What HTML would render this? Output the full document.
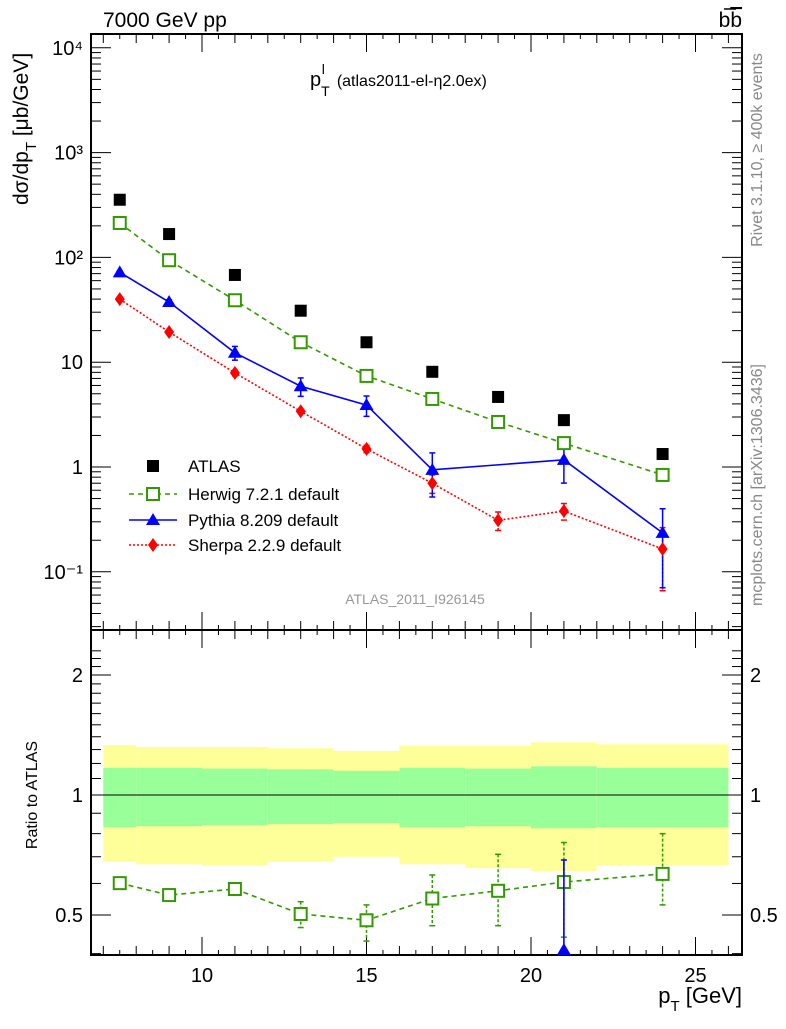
<!DOCTYPE html>
<html><head><meta charset="utf-8"><style>
body{margin:0;background:#fff}
svg text{font-family:"Liberation Sans",Arial,sans-serif}
</style></head><body>
<svg id="c" width="786" height="1024" xmlns="http://www.w3.org/2000/svg"></svg>
<script>
const xs=[7.5,9,11,13,15,17,19,21,24];
const binLo=[7,8,10,12,14,16,18,20,22];
const binHi=[8,10,12,14,16,18,20,22,26];
const atlas=[355,167,68,31,15.5,8.1,4.66,2.8,1.33];
const herwig=[213,94,39,15.5,7.4,4.46,2.69,1.69,0.84];
const herwigErr=[0.02,0.02,0.03,0.03,0.03,0.04,0.08,0.1,0.12];
const pythia=[72,37.5,12.3,5.9,3.9,0.94,1.17,0.235];
const pythiaX=[7.5,9,11,13,15,17,21,24];
const pythiaErr=[0.03,0.05,0.15,0.2,0.22,0.45,0.4,0.7];
const sherpa=[40,19.4,7.9,3.4,1.49,0.70,0.31,0.38,0.165];
const sherpaErr=[0.04,0.05,0.06,0.05,0.08,0.2,0.2,0.18,0.6];
const ratioH=[0.601,0.561,0.581,0.503,0.485,0.55,0.575,0.605,0.634];
const ratioHLo=[0.59,0.55,0.57,0.465,0.43,0.47,0.47,0.44,0.53];
const ratioHHi=[0.61,0.57,0.59,0.54,0.53,0.63,0.71,0.76,0.80];
const yelUp=[1.335,1.32,1.32,1.31,1.29,1.33,1.33,1.355,1.34];
const yelDn=[0.68,0.67,0.665,0.68,0.70,0.67,0.655,0.645,0.665];
const grnUp=[1.17,1.17,1.165,1.16,1.15,1.17,1.165,1.18,1.17];
const grnDn=[0.83,0.835,0.84,0.845,0.85,0.83,0.835,0.825,0.83];
const yTicks=[-1,0,1,2,3,4];
const yTickLabels=["10\u207B\u00B9","1","10","10\u00B2","10\u00B3","10\u2074"];
const xTicks=[10,15,20,25];
const rTicks=[0.5,1,2];

const L=91,R=742,T=34,MB=630,RB=955;
const X=v=>202+(v-10)*32.9;
const Y=v=>467-104.8*Math.log10(v);
const RY=r=>795-120*Math.log2(r);
const svg=document.getElementById('c');
const NS="http://www.w3.org/2000/svg";
function mk(tag,at,txt){const e=document.createElementNS(NS,tag);for(const k in at)e.setAttribute(k,at[k]);if(txt!==undefined)e.textContent=txt;svg.appendChild(e);return e;}
function line(x1,y1,x2,y2,st,w,da){return mk('line',{x1,y1,x2,y2,stroke:st,'stroke-width':w||1,'stroke-dasharray':da||'none'});}

for(let i=0;i<binLo.length;i++){
 let e=mk('rect',{x:X(binLo[i]),y:RY(yelUp[i]),width:X(binHi[i])-X(binLo[i]),height:RY(yelDn[i])-RY(yelUp[i]),fill:'#ffff99'});
 
 e=mk('rect',{x:X(binLo[i]),y:RY(grnUp[i]),width:X(binHi[i])-X(binLo[i]),height:RY(grnDn[i])-RY(grnUp[i]),fill:'#99ff99'});
 
}
line(L,795,R,795,'#000',1);

let f=mk('rect',{x:L,y:T,width:R-L,height:MB-T,fill:'none',stroke:'#000','stroke-width':2});

f=mk('rect',{x:L,y:MB,width:R-L,height:RB-MB,fill:'none',stroke:'#000','stroke-width':2});


for(let v=7;v<=26;v++){const big=v%5==0;const len=big?18:9;
 for(const [a,b] of [[T,1],[MB,-1],[MB,1],[RB,-1]]) line(X(v),a,X(v),a+b*len,'#000',1);
}
for(let v=7;v<26;v++){const xm=X(v+0.5);for(const [a,b] of [[T,1],[MB,-1],[MB,1],[RB,-1]]) line(xm,a,xm,a+b*5,'#000',1);}
xTicks.forEach(v=>{const t=mk('text',{x:X(v),y:982,'font-size':20,'text-anchor':'middle'},String(v));});
for(let d=-2;d<=4;d++){for(let m=1;m<10;m++){const v=m*Math.pow(10,d);const y=Y(v);if(y<T||y>MB)continue;const len=m==1?20:10;line(L,y,L+len,y,'#000',1);line(R,y,R-len,y,'#000',1);}}
yTicks.forEach((p,i)=>{const y=Y(Math.pow(10,p));const t=mk('text',{x:83,y:y+7,'font-size':20,'text-anchor':'end'},yTickLabels[i]);});
for(let r=0.4;r<=2.4;r+=0.1){const y=RY(r);if(y<MB||y>RB)continue;const big=rTicks.some(t=>Math.abs(t-r)<1e-6);const len=big?20:10;line(L,y,L+len,y,'#000',1);line(R,y,R-len,y,'#000',1);}
rTicks.forEach(r=>{const y=RY(r)+7;let t=mk('text',{x:83,y,'font-size':20,'text-anchor':'end'},String(r));
 t=mk('text',{x:750,y,'font-size':20},String(r));});

function sq(x,y,fill,name){const e=mk('rect',{x:x-6,y:y-6,width:12,height:12,fill:fill?'#000':'#fff',stroke:fill?'#000':'#339900','stroke-width':fill?0:2});}
function tri(x,y,name){const e=mk('polygon',{points:`${x},${y-7} ${x-7},${y+5} ${x+7},${y+5}`,fill:'#0000ff'});}
function dia(x,y,name){const e=mk('polygon',{points:`${x},${y-7} ${x-5},${y} ${x},${y+7} ${x+5},${y}`,fill:'#ff0000'});}
function poly(pts,col,da,w,name){const e=mk('polyline',{points:pts.map(p=>p.join(',')).join(' '),fill:'none',stroke:col,'stroke-width':w,'stroke-dasharray':da});}
function err(x,y1,y2,col,da){const a=Math.max(Math.min(y1,y2),T),b=Math.min(Math.max(y1,y2),MB);line(x,a,x,b,col,1.5,da);line(x-3,a,x+3,a,col,1.5);line(x-3,b,x+3,b,col,1.5);}

poly(xs.map((v,i)=>[X(v),Y(herwig[i])]),'#339900','5,4',1.6,'herwig-line');
poly(pythiaX.map((v,i)=>[X(v),Y(pythia[i])]),'#0000ff','none',1.6,'pythia-line');
poly(xs.map((v,i)=>[X(v),Y(sherpa[i])]),'#ff0000','2,2',1.6,'sherpa-line');
xs.forEach((v,i)=>{err(X(v),Y(herwig[i]*(1-herwigErr[i])),Y(herwig[i]*(1+herwigErr[i])),'#339900','3,2');err(X(v),Y(sherpa[i]*(1-Math.min(sherpaErr[i],0.9))),Y(sherpa[i]*(1+sherpaErr[i])),'#ff0000','2,2');});
pythiaX.forEach((v,i)=>err(X(v),Y(pythia[i]*(1-Math.min(pythiaErr[i],0.9))),Y(pythia[i]*(1+pythiaErr[i])),'#0000ff'));
xs.forEach((v,i)=>sq(X(v),Y(atlas[i]),true,'atlas-point'));
xs.forEach((v,i)=>sq(X(v),Y(herwig[i]),false,'herwig-point'));
pythiaX.forEach((v,i)=>tri(X(v),Y(pythia[i]),'pythia-point'));
xs.forEach((v,i)=>dia(X(v),Y(sherpa[i]),'sherpa-point'));

poly(xs.map((v,i)=>[X(v),RY(ratioH[i])]),'#339900','5,4',1.6,'herwig-ratio-line');
xs.forEach((v,i)=>{const a=RY(ratioHHi[i]),b=RY(ratioHLo[i]);line(X(v),a,X(v),b,'#339900',1.5,'3,2');line(X(v)-3,a,X(v)+3,a,'#339900',1.5);line(X(v)-3,b,X(v)+3,b,'#339900',1.5);sq(X(v),RY(ratioH[i]),false,'herwig-ratio-point');});
line(X(21),860,X(21),RB,'#0000ff',1.6);line(X(21)-3,860,X(21)+3,860,'#0000ff',1.5);tri(X(21),RB-5,'pythia-ratio-point');

const lg=[['ATLAS',466],['Herwig 7.2.1 default',494],['Pythia 8.209 default',520],['Sherpa 2.2.9 default',545]];
lg.forEach(([t,y],i)=>{
 if(i==1)line(129,y,177,y,'#339900',1.6,'5,4');
 if(i==2)line(129,y,177,y,'#0000ff',1.6);
 if(i==3)line(129,y,177,y,'#ff0000',1.6,'2,2');
 if(i==0)sq(153,y,true,'legend-atlas-marker');if(i==1)sq(153,y,false,'legend-herwig-marker');if(i==2)tri(153,y,'legend-pythia-marker');if(i==3)dia(153,y,'legend-sherpa-marker');
 const e=mk('text',{x:188,y:y+6,'font-size':17},t);
});

function T2(at,html,name){const e=mk('text',at);e.innerHTML=html;return e;}
T2({x:103,y:27,'font-size':21},'7000 GeV pp','energy-label');
T2({x:742,y:27,'font-size':21,'text-anchor':'end'},'b<tspan text-decoration="overline">b</tspan>','process-label');
line(724,9,736,9,'#000',1.5);
T2({x:310,y:86,'font-size':20},'p<tspan font-size="14" dy="10">T</tspan><tspan font-size="14" dx="-8" dy="-22">l</tspan><tspan font-size="16" dx="12" dy="12">(atlas2011-el-η2.0ex)</tspan>','plot-title');
T2({x:0,y:0,'font-size':21,transform:'translate(28,205) rotate(-90)'},'dσ/dp<tspan font-size="15" dy="8">T</tspan><tspan dy="-8"> [μb/GeV]</tspan>','y-axis-title');
T2({x:0,y:0,'font-size':16,'text-anchor':'middle',transform:'translate(37,795) rotate(-90)'},'Ratio to ATLAS','ratio-axis-title');
T2({x:742,y:1003,'font-size':22,'text-anchor':'end'},'p<tspan font-size="15" dy="8">T</tspan><tspan dy="-8"> [GeV]</tspan>','x-axis-title');
T2({x:0,y:0,'font-size':16,fill:'#888','text-anchor':'middle',transform:'translate(762,150) rotate(-90)'},'Rivet 3.1.10, ≥ 400k events','rivet-label');
T2({x:0,y:0,'font-size':16,fill:'#888','text-anchor':'middle',transform:'translate(762,485) rotate(-90)'},'mcplots.cern.ch [arXiv:1306.3436]','mcplots-label');
T2({x:415,y:604,'font-size':14,fill:'#999','text-anchor':'middle'},'ATLAS_2011_I926145','analysis-label');
</script>
</body></html>
